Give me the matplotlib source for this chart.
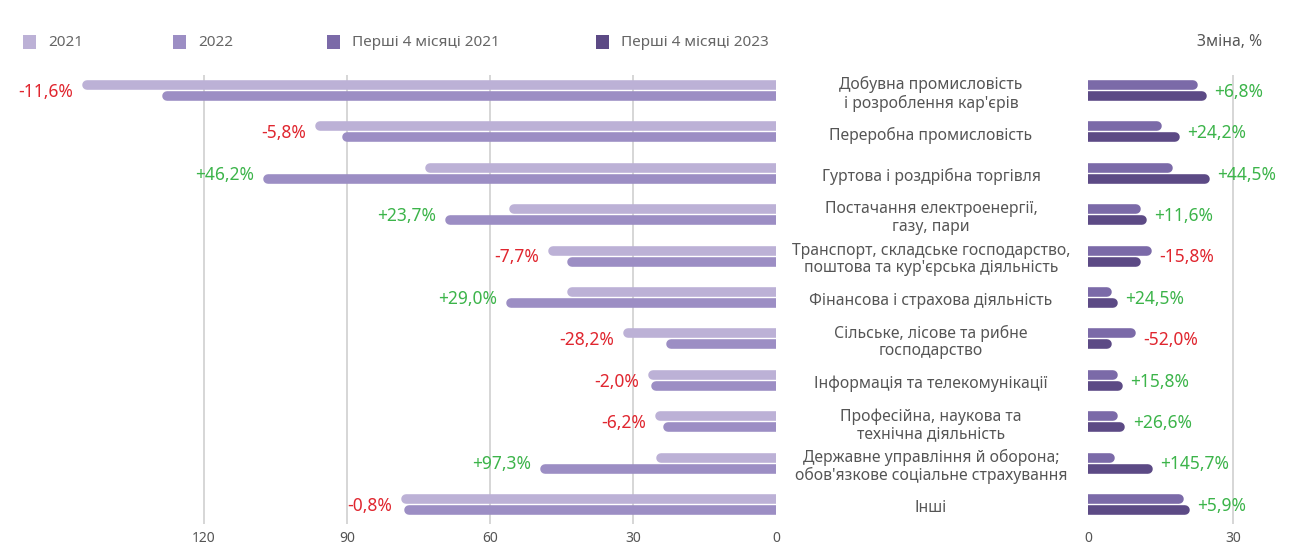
import numpy as np
import matplotlib
matplotlib.use("Agg")
import matplotlib.pyplot as plt
import matplotlib.transforms as mtransforms
from matplotlib.patches import Rectangle

plt.rcParams['font.family'] = ['Noto Sans', 'DejaVu Sans']

categories = [
    "Добувна промисловість\nі розроблення кар'єрів",
    "Переробна промисловість",
    "Гуртова і роздрібна торгівля",
    "Постачання електроенергії,\nгазу, пари",
    "Транспорт, складське господарство,\nпоштова та кур'єрська діяльність",
    "Фінансова і страхова діяльність",
    "Сільське, лісове та рибне\nгосподарство",
    "Інформація та телекомунікації",
    "Професійна, наукова та\nтехнічна діяльність",
    "Державне управління й оборона;\nобов'язкове соціальне страхування",
    "Інші",
]
year_2021 = [145.5, 96.6, 73.6, 56.0, 47.8, 43.8, 32.1, 26.8, 25.4, 25.2, 78.6]
year_2022 = [128.7, 91.0, 107.5, 69.4, 43.8, 56.6, 23.1, 26.2, 23.7, 49.5, 78.0]
change_year = ['-11,6%', '-5,8%', '+46,2%', '+23,7%', '-7,7%', '+29,0%',
               '-28,2%', '-2,0%', '-6,2%', '+97,3%', '-0,8%']
m4_2021 = [22.8, 15.2, 17.5, 10.9, 13.1, 5.0, 9.8, 6.2, 6.1, 5.45, 19.8]
m4_2023 = [24.5, 18.9, 25.2, 12.1, 11.0, 6.2, 4.9, 7.2, 7.7, 13.4, 21.0]
change_m4 = ['+6,8%', '+24,2%', '+44,5%', '+11,6%', '-15,8%', '+24,5%',
             '-52,0%', '+15,8%', '+26,6%', '+145,7%', '+5,9%']
legend_labels = ['2021', '2022', 'Перші 4 місяці 2021', 'Перші 4 місяці 2023']

colors = ['#bcb1d6', '#9c8ec4', '#7b6aa8', '#5c4a85']
red = '#e0262f'
green = '#3cb44a'
grid_c = '#cfcfcf'
text_c = '#555555'

W, H, DPI = 1290, 546, 100
fig = plt.figure(figsize=(W / DPI, H / DPI), dpi=DPI)

top_px, bot_px = 75, 524
ax_b = 1 - bot_px / H
ax_h = (bot_px - top_px) / H
left_x0, left_x1 = 10, 776
right_x0, right_x1 = 1088, 1290
axL = fig.add_axes([left_x0 / W, ax_b, (left_x1 - left_x0) / W, ax_h])
axR = fig.add_axes([right_x0 / W, ax_b, (right_x1 - right_x0) / W, ax_h])

uL = 30 / 143.0   # data units per pixel
uR = 30 / 145.0
axL.set_xlim((left_x1 - left_x0) * uL, 0)
axR.set_xlim(0, (right_x1 - right_x0) * uR)

pitch = (504.5 - 90.5) / 10
for ax in (axL, axR):
    ax.set_ylim(10 + (bot_px - 504.5) / pitch, -(90.5 - top_px) / pitch)
    for s in ax.spines.values():
        s.set_visible(False)
    ax.set_yticks([])
    ax.tick_params(axis='x', length=0, labelsize=10, labelcolor='#555555', pad=5)

axL.set_xticks([120, 90, 60, 30, 0])
axR.set_xticks([0, 30])
for v in [30, 60, 90, 120]:
    axL.axvline(v, color=grid_c, lw=1.2, zorder=0)
axR.axvline(30, color=grid_c, lw=1.2, zorder=0)

y = np.arange(len(categories))
off = 11 / 2 / pitch
bar_px = 9.6
lw = bar_px * 72 / DPI
rL = bar_px / 2 * uL
rR = bar_px / 2 * uR

axL.hlines(y - off, 0, np.array(year_2021) - rL, color=colors[0], lw=lw, capstyle='round', zorder=2)
axL.hlines(y + off, 0, np.array(year_2022) - rL, color=colors[1], lw=lw, capstyle='round', zorder=2)
axR.hlines(y - off, 0, np.array(m4_2021) - rR, color=colors[2], lw=lw, capstyle='round', zorder=2)
axR.hlines(y + off, 0, np.array(m4_2023) - rR, color=colors[3], lw=lw, capstyle='round', zorder=2)

for i in range(len(categories)):
    c = red if change_year[i].startswith('-') else green
    axL.annotate(change_year[i], (max(year_2021[i], year_2022[i]), y[i] + 0.03),
                 xytext=(-6.5, 0), textcoords='offset points', ha='right', va='center',
                 color=c, fontsize=12.5)
    c = red if change_m4[i].startswith('-') else green
    axR.annotate(change_m4[i], (max(m4_2021[i], m4_2023[i]), y[i] + 0.03),
                 xytext=(5.5, 0), textcoords='offset points', ha='left', va='center',
                 color=c, fontsize=12.5, annotation_clip=False)

trans = mtransforms.blended_transform_factory(fig.transFigure, axL.transData)
for i, cat in enumerate(categories):
    axL.text(931 / W, y[i] + 0.08, cat, transform=trans, ha='center', va='center',
             fontsize=11.3, color=text_c, linespacing=1.12, clip_on=False)

# legend drawn by hand to keep the original spacing
leg_x = [23, 173, 327, 596]
leg_y = 42
sq = 13
for x0, c, lab in zip(leg_x, colors, legend_labels):
    fig.add_artist(Rectangle((x0 / W, (H - leg_y - sq / 2) / H), sq / W, sq / H,
                             transform=fig.transFigure, facecolor=c, edgecolor='none'))
    fig.text((x0 + sq + 12) / W, 1 - leg_y / H, lab, ha='left', va='center',
             fontsize=11, color='#666666')
fig.text(1262 / W, 1 - leg_y / H, 'Зміна, %', ha='right', va='center', fontsize=11.3, color='#555555')

fig.savefig('out.png', dpi=DPI)
